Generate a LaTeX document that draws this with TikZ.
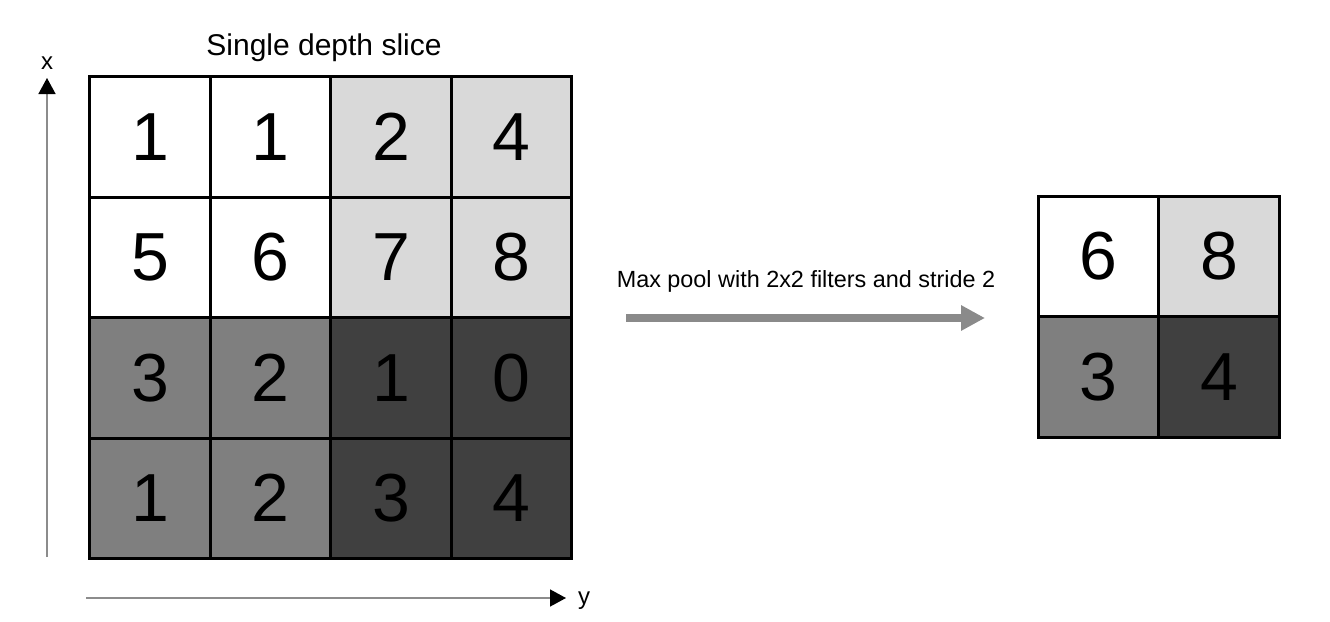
\documentclass[tikz,border=0pt]{standalone}
\usepackage{fontspec}
\setmainfont{Liberation Sans}
\usepackage{tikz}
\usetikzlibrary{arrows.meta}
\usetikzlibrary{positioning}
\tikzset{>=latex}
\definecolor{lightcell}{HTML}{D9D9D9}
\definecolor{midcell}{HTML}{7F7F7F}
\definecolor{darkcell}{HTML}{404040}

\begin{document}
\begin{tikzpicture}[x=0.5pt,y=-0.5pt,
	cell/.style={draw, line width=1.5pt, inner sep=0pt, minimum size=60.25pt, font=\fontsize{34}{34}\selectfont},
	wcell/.style={cell, fill=white}, lcell/.style={cell, fill=lightcell},
	mcell/.style={cell, fill=midcell}, dcell/.style={cell, fill=darkcell},
	axis/.style={draw=black!45, line width=0.75pt, -{Triangle[length=8pt,width=8.5pt,color=black]}},
	pool/.style={draw=black!46, line width=4pt, -{Triangle[length=12pt,width=12pt]}},
	node distance=60.25pt, on grid]
		\useasboundingbox (0,0) rectangle (1330,622);
		% single depth slice
		\node[wcell] (a11) at (150,136.75) {1};
		\node[wcell] (a12) [right= of a11] {1};
		\node[lcell] (a13) [right= of a12] {2};
		\node[lcell] (a14) [right= of a13] {4};
		\node[wcell] (a21) [below= of a11] {5};
		\node[wcell] (a22) [right= of a21] {6};
		\node[lcell] (a23) [right= of a22] {7};
		\node[lcell] (a24) [right= of a23] {8};
		\node[mcell] (a31) [below= of a21] {3};
		\node[mcell] (a32) [right= of a31] {2};
		\node[dcell] (a33) [right= of a32] {1};
		\node[dcell] (a34) [right= of a33] {0};
		\node[mcell] (a41) [below= of a31] {1};
		\node[mcell] (a42) [right= of a41] {2};
		\node[dcell] (a43) [right= of a42] {3};
		\node[dcell] (a44) [right= of a43] {4};
		\node[anchor=base, font=\fontsize{15}{15}\selectfont] (title) at (324,55) {Single depth slice};
		% axes
		\coordinate (xbot) at (47,557);
		\coordinate (xtop) at (47,78);
		\coordinate (yleft) at (86,598);
		\coordinate (yright) at (566,598);
		\path[axis] (xbot) -- (xtop);
		\path[axis] (yleft) -- (yright);
		\node[font=\fontsize{12}{12}\selectfont, inner sep=0pt] (xlab) at (47,63.5) {x};
		\node[anchor=base, font=\fontsize{12}{12}\selectfont, inner sep=0pt] (ylab) at (584,604) {y};
		% pooling
		\coordinate (pa) at (626,318);
		\coordinate (pb) at (985,318);
		\path[pool] (pa) -- (pb);
		\node[anchor=base, font=\fontsize{11.7}{11.7}\selectfont] (poollabel) at (806,287) {Max pool with 2x2 filters and stride 2};
		% output
		\node[wcell] (b11) at (1098.5,256.5) {6};
		\node[lcell] (b12) [right= of b11] {8};
		\node[mcell] (b21) [below= of b11] {3};
		\node[dcell] (b22) [right= of b21] {4};
	\end{tikzpicture}
\end{document}
